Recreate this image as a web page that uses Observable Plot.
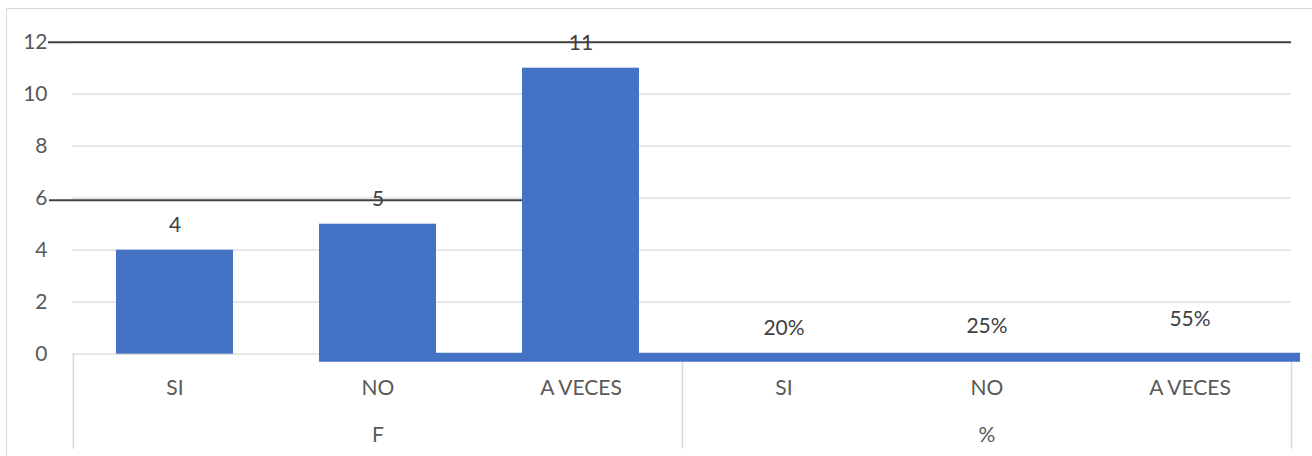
<!DOCTYPE html>
<html>
<head>
<meta charset="utf-8">
<script src="https://cdn.jsdelivr.net/npm/d3@7"></script>
<script src="https://cdn.jsdelivr.net/npm/@observablehq/plot@0.6"></script>
<style>
  html, body { margin: 0; padding: 0; background: #fff; }
  #chart { position: relative; width: 1312px; height: 456px; overflow: hidden; }
  #chart svg { position: absolute; left: 0; top: 0; }
  #border { position: absolute; left: 6px; top: 8px; width: 1400px; height: 600px;
            border: 1.5px solid #d9d9d9; box-sizing: border-box; pointer-events: none; }
</style>
</head>
<body>
<div id="chart"><div id="border"></div></div>
<script>
// Survey answers: frequency (F) and share (%) for each response
const groups = ["F", "F", "F", "%", "%", "%"];
const answers = ["SI", "NO", "A VECES", "SI", "NO", "A VECES"];
const values = [4, 5, 11, 0.20, 0.25, 0.55];
const valueLabels = ["4", "5", "11", "20%", "25%", "55%"];
const yTicks = [0, 2, 4, 6, 8, 10, 12];
const groupNames = ["F", "%"];

const rows = answers.map((a, i) => ({
  key: groups[i] + "|" + a,
  group: groups[i],
  answer: a,
  value: values[i],
  label: valueLabels[i]
}));
const keys = rows.map(d => d.key);
const freqRows = rows.filter(d => d.group === "F");
const pctRows = rows.filter(d => d.group === "%");
// each group label sits under the middle answer of its group
const groupRows = groupNames.map(g => {
  const members = rows.filter(d => d.group === g);
  return {key: members[Math.floor(members.length / 2)].key, name: g};
});

const W = 1312, H = 456;
const mL = 72, mR = 21, mT = 41.7, mB = 102.3;
const step = (W - mL - mR) / keys.length;
const barInset = 43;
const font = "Lato, 'Liberation Sans', sans-serif";
const fs = 21;
const blue = "#4472C4";

const chart = Plot.plot({
  width: W,
  height: H,
  marginLeft: mL,
  marginRight: mR,
  marginTop: mT,
  marginBottom: mB,
  style: {fontFamily: font, fontSize: fs + "px", color: "#595959", background: "transparent"},
  x: {domain: keys, padding: 0, axis: null},
  y: {domain: [0, 12], ticks: yTicks, tickSize: 0, tickPadding: 25, label: null},
  marks: [
    // light horizontal gridlines
    Plot.ruleY(yTicks, {stroke: "#d9d9d9", strokeWidth: 1.3}),
    // dark reference lines
    Plot.ruleY([12], {stroke: "#404040", strokeWidth: 2, insetLeft: -24}),
    Plot.ruleY([{y: 6, x1: "F|SI", x2: "F|A VECES"}], {y: "y", x1: "x1", x2: "x2", stroke: "#404040", strokeWidth: 2, insetLeft: -24, insetRight: 100, dy: 2}),
    // category separators below the axis
    Plot.ruleX([keys[0], keys[3]], {x: d => d, y1: 0, dx: -step / 2, insetBottom: -95, stroke: "#d9d9d9", strokeWidth: 1.5}),
    Plot.ruleX([keys[5]], {x: d => d, y1: 0, dx: step / 2, insetBottom: -95, stroke: "#d9d9d9", strokeWidth: 1.5}),
    // frequency bars
    Plot.barY(freqRows, {x: "key", y: "value", fill: blue, insetLeft: barInset, insetRight: barInset}),
    // baseline band along the bottom
    Plot.ruleY([{y: 0, x1: "F|NO", x2: "%|A VECES"}], {y: "y", x1: "x1", x2: "x2", stroke: blue, strokeWidth: 9, insetLeft: barInset, insetRight: -9, dy: 3}),
    // value labels
    Plot.text(freqRows, {x: "key", y: "value", text: "label", dy: -25, fill: "#404040", fontSize: fs, fontFamily: font}),
    Plot.text(pctRows, {x: "key", y: "value", text: "label", dy: -21, fill: "#404040", fontSize: fs, fontFamily: font}),
    // category and group labels
    Plot.text(rows, {x: "key", text: "answer", frameAnchor: "bottom", lineAnchor: "middle", dy: 34.3, fill: "#595959", fontSize: fs, fontFamily: font}),
    Plot.text(groupRows, {x: "key", text: "name", frameAnchor: "bottom", lineAnchor: "middle", dy: 81.3, fill: "#595959", fontSize: fs, fontFamily: font})
  ]
});

document.getElementById("chart").appendChild(chart);
</script>
</body>
</html>
